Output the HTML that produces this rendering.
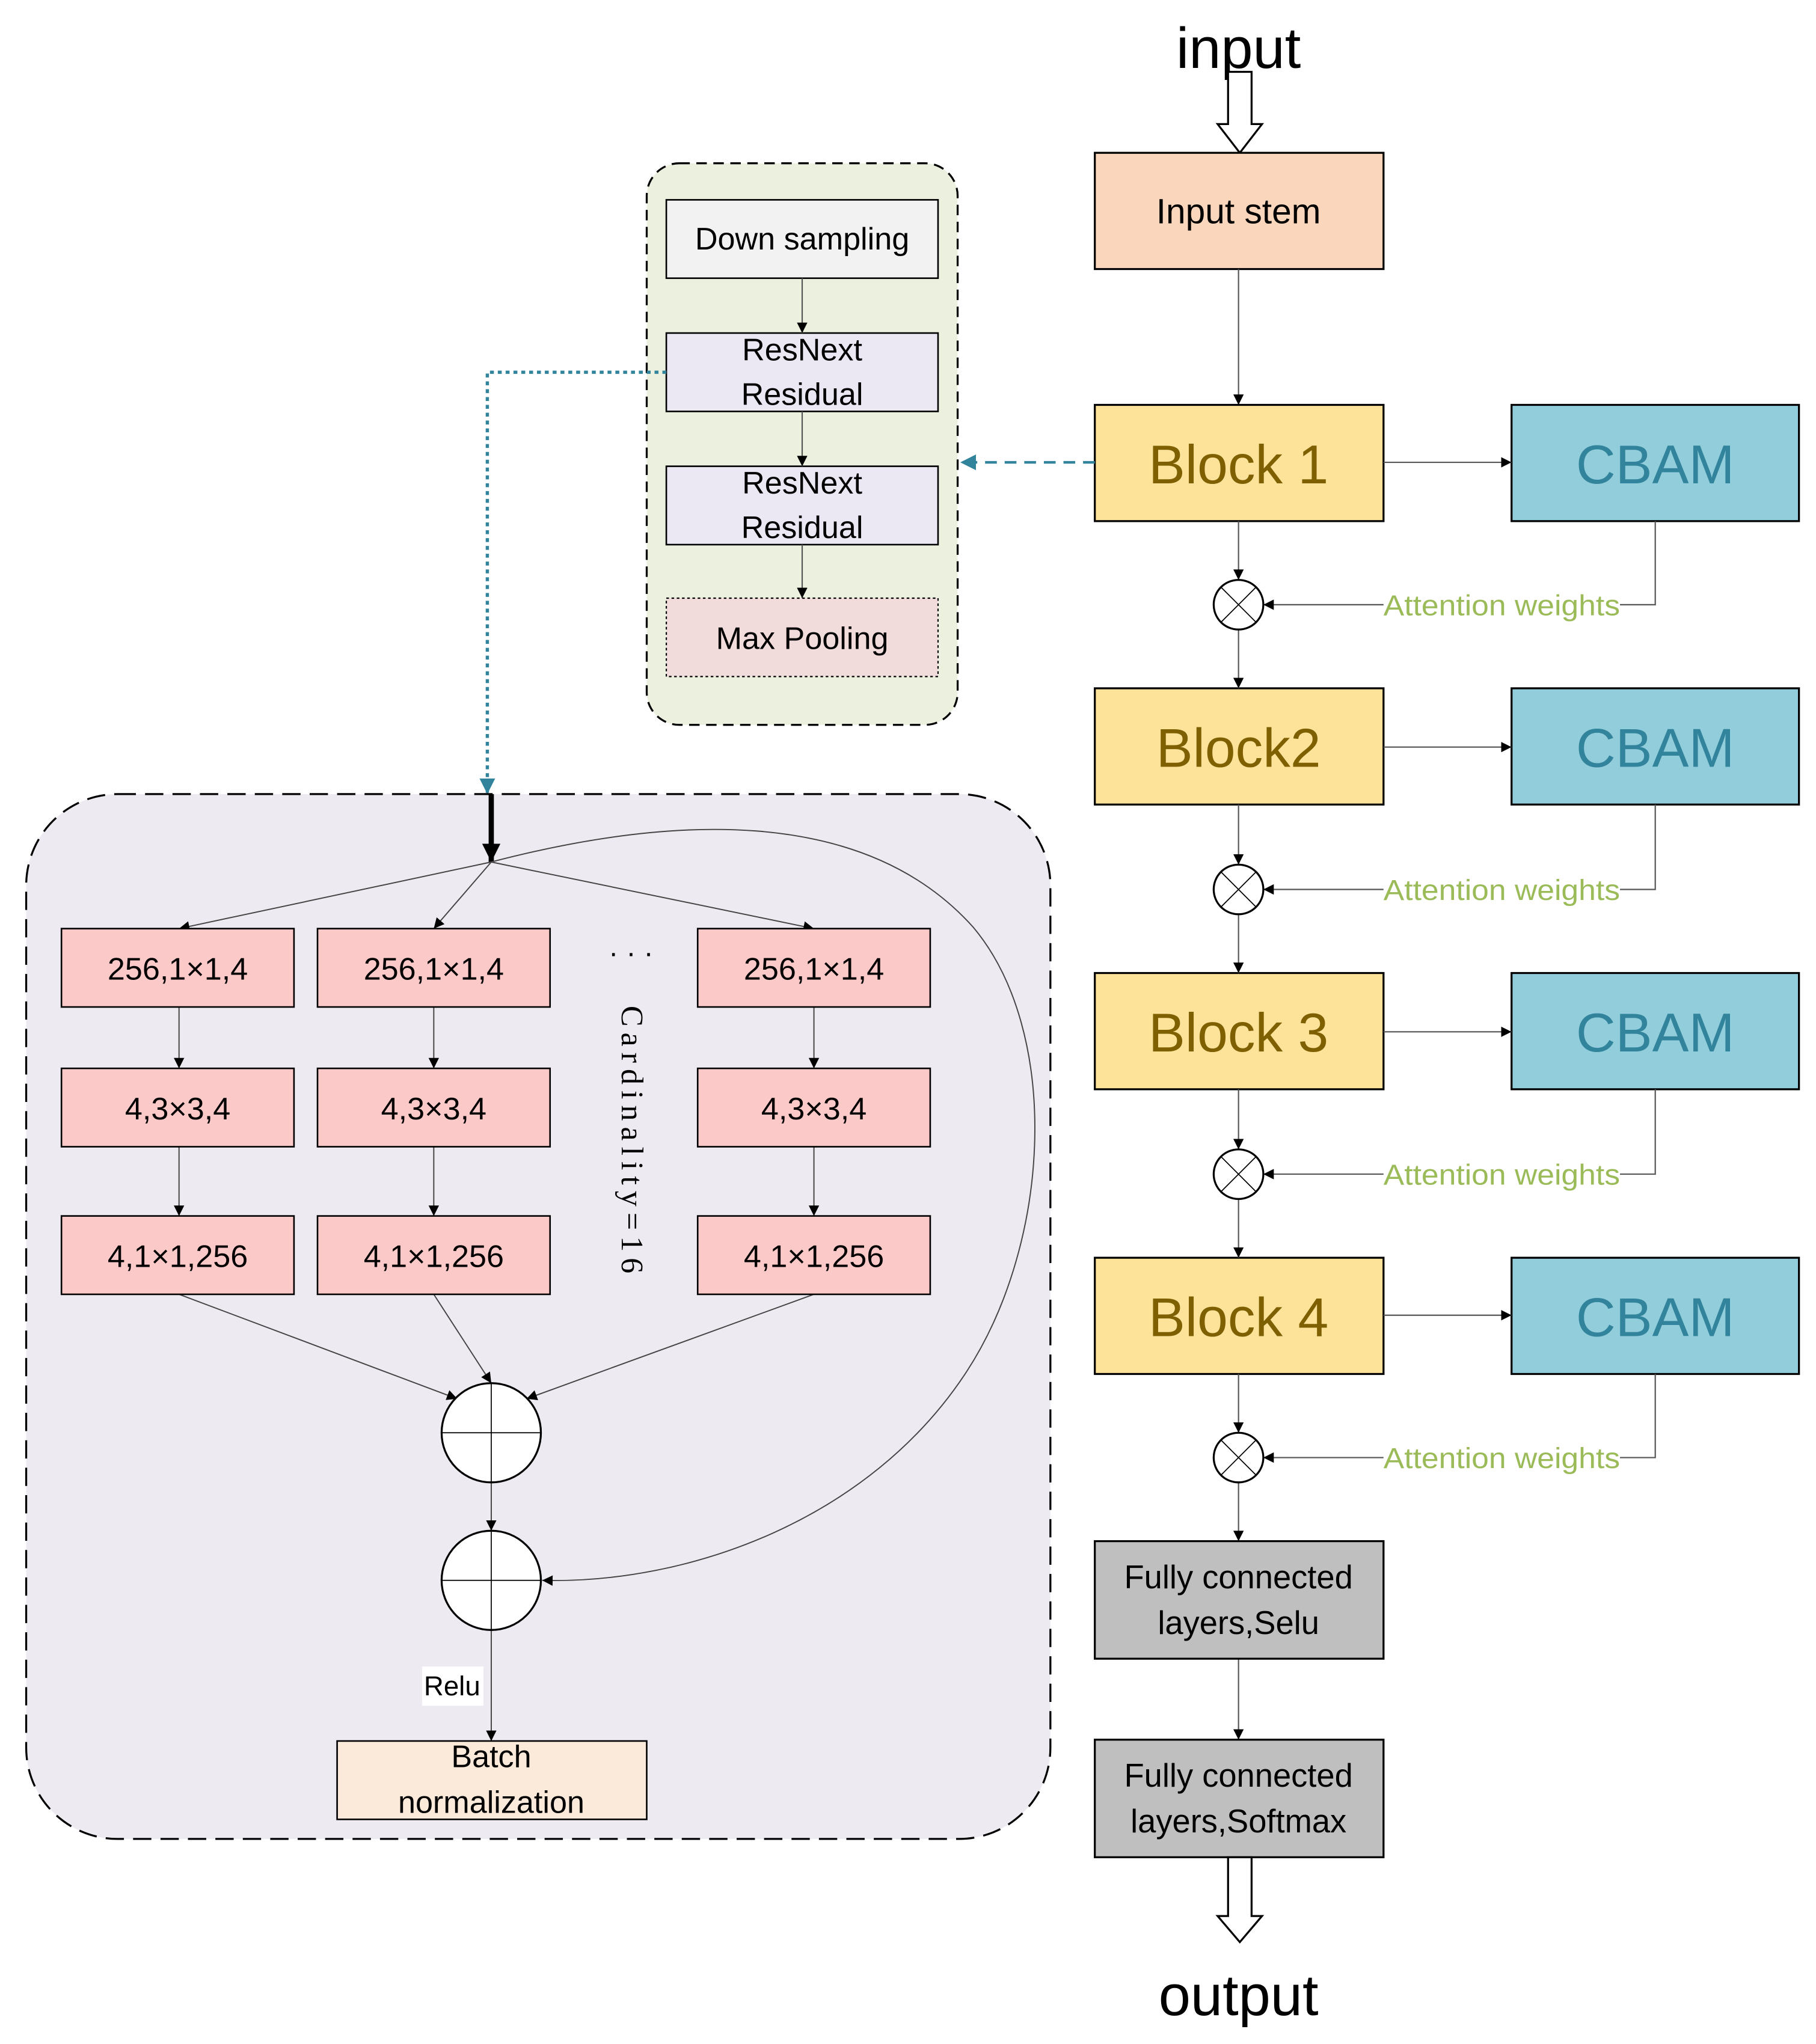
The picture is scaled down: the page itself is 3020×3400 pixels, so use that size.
<!DOCTYPE html>
<html><head><meta charset="utf-8"><style>html,body{margin:0;padding:0;background:#fff}svg{display:block}</style></head>
<body>
<svg width="3020" height="3400" viewBox="0 0 1390 1565" xmlns="http://www.w3.org/2000/svg" font-family="'Liberation Sans', sans-serif">
<defs>
<marker id="a" viewBox="0 0 10 10" refX="10" refY="5" markerWidth="8" markerHeight="8" markerUnits="userSpaceOnUse" orient="auto"><path d="M0,0L10,5L0,10z" fill="#000"/></marker>
<marker id="at" viewBox="0 0 10 10" refX="10" refY="5" markerWidth="12" markerHeight="12" markerUnits="userSpaceOnUse" orient="auto"><path d="M0,0L10,5L0,10z" fill="#31849b"/></marker>
<marker id="ab" viewBox="0 0 10 10" refX="10" refY="5" markerWidth="14" markerHeight="14" markerUnits="userSpaceOnUse" orient="auto"><path d="M0,0L10,5L0,10z" fill="#000"/></marker>
</defs>
<rect width="1390" height="1565" fill="#fff"/>

<text x="948" y="52" font-size="44" text-anchor="middle">input</text>
<path d="M940,55H958V95H966L949,117L932,95H940Z" fill="#fff" stroke="#000" stroke-width="1.5"/>
<rect x="838" y="117" width="221" height="89" fill="#fad7bc" stroke="#000" stroke-width="1.5"/>
<text x="948" y="171" font-size="27" text-anchor="middle">Input stem</text>
<line x1="948" y1="206" x2="948" y2="310" stroke="#555" marker-end="url(#a)"/>

<g font-size="42" text-anchor="middle">
<rect x="838" y="310" width="221" height="89" fill="#fde39a" stroke="#000" stroke-width="1.5"/>
<text x="948" y="370" fill="#7f6000">Block 1</text>
<rect x="838" y="527" width="221" height="89" fill="#fde39a" stroke="#000" stroke-width="1.5"/>
<text x="948" y="587" fill="#7f6000">Block2</text>
<rect x="838" y="745" width="221" height="89" fill="#fde39a" stroke="#000" stroke-width="1.5"/>
<text x="948" y="805" fill="#7f6000">Block 3</text>
<rect x="838" y="963" width="221" height="89" fill="#fde39a" stroke="#000" stroke-width="1.5"/>
<text x="948" y="1023" fill="#7f6000">Block 4</text>
<rect x="1157" y="310" width="220" height="89" fill="#92cddc" stroke="#000" stroke-width="1.5"/>
<text x="1267" y="370" fill="#31849b">CBAM</text>
<rect x="1157" y="527" width="220" height="89" fill="#92cddc" stroke="#000" stroke-width="1.5"/>
<text x="1267" y="587" fill="#31849b">CBAM</text>
<rect x="1157" y="745" width="220" height="89" fill="#92cddc" stroke="#000" stroke-width="1.5"/>
<text x="1267" y="805" fill="#31849b">CBAM</text>
<rect x="1157" y="963" width="220" height="89" fill="#92cddc" stroke="#000" stroke-width="1.5"/>
<text x="1267" y="1023" fill="#31849b">CBAM</text>
</g>

<g stroke="#555" fill="none">
<line x1="1059" y1="354" x2="1157" y2="354" marker-end="url(#a)"/>
<line x1="1059" y1="572" x2="1157" y2="572" marker-end="url(#a)"/>
<line x1="1059" y1="790" x2="1157" y2="790" marker-end="url(#a)"/>
<line x1="1059" y1="1007" x2="1157" y2="1007" marker-end="url(#a)"/>
<line x1="948" y1="399" x2="948" y2="444" marker-end="url(#a)"/>
<line x1="948" y1="482" x2="948" y2="527" marker-end="url(#a)"/>
<line x1="948" y1="616" x2="948" y2="662" marker-end="url(#a)"/>
<line x1="948" y1="700" x2="948" y2="745" marker-end="url(#a)"/>
<line x1="948" y1="834" x2="948" y2="880" marker-end="url(#a)"/>
<line x1="948" y1="918" x2="948" y2="963" marker-end="url(#a)"/>
<line x1="948" y1="1052" x2="948" y2="1097" marker-end="url(#a)"/>
<line x1="948" y1="1135" x2="948" y2="1180" marker-end="url(#a)"/>
<line x1="948" y1="1270" x2="948" y2="1332" marker-end="url(#a)"/>
<polyline points="1267,399 1267,463 1240,463"/>
<polyline points="1267,616 1267,681 1240,681"/>
<polyline points="1267,834 1267,899 1240,899"/>
<polyline points="1267,1052 1267,1116 1240,1116"/>
<line x1="1059" y1="463" x2="967" y2="463" marker-end="url(#a)"/>
<line x1="1059" y1="681" x2="967" y2="681" marker-end="url(#a)"/>
<line x1="1059" y1="899" x2="967" y2="899" marker-end="url(#a)"/>
<line x1="1059" y1="1116" x2="967" y2="1116" marker-end="url(#a)"/>
</g>
<g fill="#9bbb59" font-size="22">
<text x="1059" y="471" textLength="181" lengthAdjust="spacingAndGlyphs">Attention weights</text>
<text x="1059" y="689" textLength="181" lengthAdjust="spacingAndGlyphs">Attention weights</text>
<text x="1059" y="907" textLength="181" lengthAdjust="spacingAndGlyphs">Attention weights</text>
<text x="1059" y="1124" textLength="181" lengthAdjust="spacingAndGlyphs">Attention weights</text>
</g>
<g fill="#fff" stroke="#000" stroke-width="1.5">
<circle cx="948" cy="463" r="19"/><circle cx="948" cy="681" r="19"/><circle cx="948" cy="899" r="19"/><circle cx="948" cy="1116" r="19"/>
</g>
<g stroke="#000" stroke-width="0.8">
<path d="M935,450L961,476M961,450L935,476"/>
<path d="M935,668L961,694M961,668L935,694"/>
<path d="M935,886L961,912M961,886L935,912"/>
<path d="M935,1103L961,1129M961,1103L935,1129"/>
</g>

<rect x="838" y="1180" width="221" height="90" fill="#bfbfbf" stroke="#000" stroke-width="1.5"/>
<text x="948" y="1216" font-size="25" text-anchor="middle">Fully connected</text>
<text x="948" y="1251" font-size="25" text-anchor="middle">layers,Selu</text>
<rect x="838" y="1332" width="221" height="90" fill="#bfbfbf" stroke="#000" stroke-width="1.5"/>
<text x="948" y="1368" font-size="25" text-anchor="middle">Fully connected</text>
<text x="948" y="1403" font-size="25" text-anchor="middle">layers,Softmax</text>
<path d="M940,1422H958V1467H966L949,1487L932,1467H940Z" fill="#fff" stroke="#000" stroke-width="1.5"/>
<text x="948" y="1543" font-size="44" text-anchor="middle">output</text>

<rect x="495" y="125" width="238" height="430" rx="25" fill="#ebf1de" stroke="#000" stroke-width="1.5" stroke-dasharray="8,5"/>
<rect x="510" y="153" width="208" height="60" fill="#f2f2f2" stroke="#000" stroke-width="1.2"/>
<text x="614" y="191" font-size="24" text-anchor="middle">Down sampling</text>
<rect x="510" y="255" width="208" height="60" fill="#ebe8f4" stroke="#000" stroke-width="1.2"/>
<text x="614" y="276" font-size="24" text-anchor="middle">ResNext</text>
<text x="614" y="310" font-size="24" text-anchor="middle">Residual</text>
<rect x="510" y="357" width="208" height="60" fill="#ebe8f4" stroke="#000" stroke-width="1.2"/>
<text x="614" y="378" font-size="24" text-anchor="middle">ResNext</text>
<text x="614" y="412" font-size="24" text-anchor="middle">Residual</text>
<rect x="510" y="458" width="208" height="60" fill="#f2dcdb" stroke="#000" stroke-width="1" stroke-dasharray="2,2"/>
<text x="614" y="497" font-size="24" text-anchor="middle">Max Pooling</text>
<g stroke="#555"><line x1="614" y1="213" x2="614" y2="255" marker-end="url(#a)"/><line x1="614" y1="315" x2="614" y2="357" marker-end="url(#a)"/><line x1="614" y1="417" x2="614" y2="458" marker-end="url(#a)"/></g>
<line x1="838" y1="354" x2="735" y2="354" stroke="#31849b" stroke-width="2" stroke-dasharray="9,6" marker-end="url(#at)"/>
<polyline points="510,285 373,285 373,608" fill="none" stroke="#31849b" stroke-width="2.5" stroke-dasharray="3,3" marker-end="url(#at)"/>

<rect x="20" y="608" width="784" height="800" rx="70" fill="#edeaf2" stroke="#000" stroke-width="1.5" stroke-dasharray="14,7"/>
<line x1="376" y1="608" x2="376" y2="660" stroke="#000" stroke-width="4" marker-end="url(#ab)"/>
<g stroke="#444" fill="none" stroke-width="0.9">
<line x1="376" y1="660" x2="137" y2="711" marker-end="url(#a)"/>
<line x1="376" y1="660" x2="332" y2="711" marker-end="url(#a)"/>
<line x1="376" y1="660" x2="623" y2="711" marker-end="url(#a)"/>
<line x1="137" y1="771" x2="137" y2="818" marker-end="url(#a)"/>
<line x1="332" y1="771" x2="332" y2="818" marker-end="url(#a)"/>
<line x1="623" y1="771" x2="623" y2="818" marker-end="url(#a)"/>
<line x1="137" y1="878" x2="137" y2="931" marker-end="url(#a)"/>
<line x1="332" y1="878" x2="332" y2="931" marker-end="url(#a)"/>
<line x1="623" y1="878" x2="623" y2="931" marker-end="url(#a)"/>
<line x1="137" y1="991" x2="350" y2="1071" marker-end="url(#a)"/>
<line x1="332" y1="991" x2="376" y2="1059" marker-end="url(#a)"/>
<line x1="623" y1="991" x2="403" y2="1071" marker-end="url(#a)"/>
<line x1="376" y1="1135" x2="376" y2="1172" marker-end="url(#a)"/>
<line x1="376" y1="1248" x2="376" y2="1333" marker-end="url(#a)"/>
<path d="M376,660 C510,625 660,615 745,710 C812,790 805,950 740,1050 C665,1165 525,1213 415,1210" marker-end="url(#a)"/>
</g>
<g fill="#fcc9c9" stroke="#000" stroke-width="1.2">
<rect x="47" y="711" width="178" height="60"/><rect x="243" y="711" width="178" height="60"/><rect x="534" y="711" width="178" height="60"/>
<rect x="47" y="818" width="178" height="60"/><rect x="243" y="818" width="178" height="60"/><rect x="534" y="818" width="178" height="60"/>
<rect x="47" y="931" width="178" height="60"/><rect x="243" y="931" width="178" height="60"/><rect x="534" y="931" width="178" height="60"/>
</g>
<g font-size="24" text-anchor="middle">
<text x="136" y="750">256,1×1,4</text><text x="332" y="750">256,1×1,4</text><text x="623" y="750">256,1×1,4</text>
<text x="136" y="857">4,3×3,4</text><text x="332" y="857">4,3×3,4</text><text x="623" y="857">4,3×3,4</text>
<text x="136" y="970">4,1×1,256</text><text x="332" y="970">4,1×1,256</text><text x="623" y="970">4,1×1,256</text>
</g>
<text x="483" y="737" font-size="22" text-anchor="middle">· · ·</text>
<text transform="translate(476,770) rotate(90)" font-family="'Liberation Serif', serif" font-size="24" textLength="205" lengthAdjust="spacing">Cardinality=16</text>
<g fill="#fff" stroke="#000" stroke-width="1.5"><circle cx="376" cy="1097" r="38"/><circle cx="376" cy="1210" r="38"/></g>
<g stroke="#000" stroke-width="0.8"><path d="M338,1097H414M376,1059V1135M338,1210H414M376,1172V1248"/></g>
<rect x="323" y="1276" width="47" height="30" fill="#fff"/>
<text x="346" y="1298" font-size="21" text-anchor="middle">Relu</text>
<rect x="258" y="1333" width="237" height="60" fill="#fbe9da" stroke="#000" stroke-width="1.2"/>
<text x="376" y="1353" font-size="24" text-anchor="middle">Batch</text>
<text x="376" y="1388" font-size="24" text-anchor="middle">normalization</text>
</svg>
</body></html>
